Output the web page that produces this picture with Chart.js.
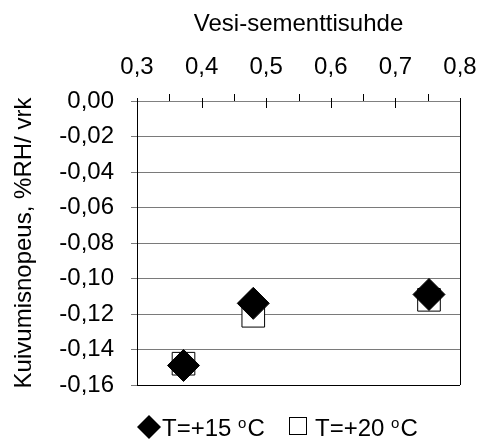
<!DOCTYPE html>
<html>
<head>
<meta charset="utf-8">
<script src="https://cdn.jsdelivr.net/npm/chart.js@4/dist/chart.umd.min.js"></script>
<style>
  html, body { margin: 0; padding: 0; background: #fff; }
  canvas { display: block; }
</style>
</head>
<body>
<canvas id="chart" width="477" height="441"></canvas>
<script>
// water-cement ratio (x) and drying rate (y) for both temperatures
const wcRatio = [0.372, 0.48, 0.752];
const rate15 = [-0.149, -0.114, -0.109];
const rate20 = [-0.148, -0.121, -0.112];
const seriesNames = ['T=+15', 'T=+20'];

const xTicks = [0.3, 0.4, 0.5, 0.6, 0.7, 0.8];
const yTicks = [0, -0.02, -0.04, -0.06, -0.08, -0.10, -0.12, -0.14, -0.16];

const FONT = 'Liberation Sans, Arial, sans-serif';

const toPoints = (xs, ys) => xs.map((x, i) => ({ x: x, y: ys[i] }));
const comma = (v, d) => {
    const s = Math.abs(v) < 1e-9 ? (0).toFixed(d) : v.toFixed(d);
    return s.replace('.', ',');
};

// tick marks on top axis, right/bottom frame, and the legend
const extras = {
    id: 'extras',
    afterDraw(chart) {
        const ctx = chart.ctx;
        const area = chart.chartArea;
        const xs = chart.scales.x;
        ctx.save();

        // frame right + bottom
        ctx.strokeStyle = '#000';
        ctx.lineWidth = 1;
        ctx.beginPath();
        ctx.moveTo(Math.round(area.right) + 0.5, area.top);
        ctx.lineTo(Math.round(area.right) + 0.5, area.bottom);
        ctx.stroke();

        // top axis ticks: major cross, minor outside
        ctx.strokeStyle = '#000';
        for (let v = 0.3; v <= 0.8001; v += 0.05) {
            const px = Math.round(xs.getPixelForValue(v)) + 0.5;
            const major = Math.abs(v * 10 - Math.round(v * 10)) < 1e-6;
            ctx.beginPath();
            if (major) {
                ctx.moveTo(px, area.top - 3);
                ctx.lineTo(px, area.top + 7);
            } else {
                ctx.moveTo(px, area.top - 7);
                ctx.lineTo(px, area.top);
            }
            ctx.stroke();
        }

        // legend
        const ly = 436;
        ctx.fillStyle = '#000';
        // diamond
        ctx.beginPath();
        ctx.moveTo(149 - 12, 427);
        ctx.lineTo(149, 427 - 12);
        ctx.lineTo(149 + 12, 427);
        ctx.lineTo(149, 427 + 12);
        ctx.closePath();
        ctx.fill();
        // square
        ctx.fillStyle = '#fff';
        ctx.fillRect(289.5, 417.5, 17, 17);
        ctx.strokeRect(289.5, 417.5, 17, 17);

        ctx.fillStyle = '#000';
        ctx.textBaseline = 'alphabetic';
        ctx.textAlign = 'left';
        [[162, seriesNames[0]], [315, seriesNames[1]]].forEach(([x, name]) => {
            ctx.font = '24px ' + FONT;
            const t = name + ' ';
            ctx.fillText(t, x, ly);
            let w = ctx.measureText(t).width;
            ctx.font = '15px ' + FONT;
            ctx.fillText('o', x + w, ly - 8);
            w += ctx.measureText('o').width + 1;
            ctx.font = '24px ' + FONT;
            ctx.fillText('C', x + w, ly);
        });
        ctx.restore();
    }
};

new Chart(document.getElementById('chart'), {
    type: 'scatter',
    data: {
        datasets: [
            {
                label: seriesNames[0] + ' oC',
                data: toPoints(wcRatio, rate15),
                pointStyle: 'rectRot',
                pointRadius: 16,
                backgroundColor: '#000',
                borderColor: '#000',
                borderWidth: 1,
            },
            {
                label: seriesNames[1] + ' oC',
                data: toPoints(wcRatio, rate20),
                pointStyle: 'rect',
                pointRadius: 16,
                backgroundColor: '#fff',
                borderColor: '#000',
                borderWidth: 1,
            },
        ],
    },
    options: {
        responsive: false,
        animation: false,
        events: [],
        layout: { padding: { left: 0, right: 13, top: 0, bottom: 56 } },
        plugins: {
            legend: { display: false },
            tooltip: { enabled: false },
        },
        scales: {
            x: {
                type: 'linear',
                position: 'top',
                min: 0.3,
                max: 0.8,
                afterBuildTicks: (scale) => { scale.ticks = xTicks.map(v => ({ value: v })); },
                afterFit: (scale) => { scale.height = 101; scale.paddingLeft = 0; scale.paddingRight = 0; },
                ticks: {
                    color: '#000',
                    padding: 19,
                    maxRotation: 0,
                    font: { family: FONT, size: 24 },
                    callback: (v) => comma(v, 1),
                },
                grid: { display: false, drawTicks: false },
                border: { display: true, color: '#808080', width: 1 },
                title: {
                    display: true,
                    text: 'Vesi-sementtisuhde',
                    color: '#000',
                    font: { family: FONT, size: 24 },
                    padding: { top: 10, bottom: 0 },
                },
            },
            y: {
                type: 'linear',
                min: -0.16,
                max: 0,
                afterBuildTicks: (scale) => { scale.ticks = yTicks.map(v => ({ value: v })); },
                afterFit: (scale) => { scale.width = 137; },
                ticks: {
                    color: '#000',
                    padding: 17,
                    font: { family: FONT, size: 24 },
                    callback: (v) => comma(v, 2),
                },
                grid: {
                    color: (c) => (c.tick && c.tick.value <= -0.159 ? '#000' : '#7a7a7a'),
                    tickColor: '#7a7a7a',
                    tickLength: 6,
                },
                border: { display: true, color: '#000', width: 1 },
                title: {
                    display: true,
                    text: 'Kuivumisnopeus, %RH/ vrk',
                    color: '#000',
                    font: { family: FONT, size: 24 },
                    padding: { top: 10, bottom: 0 },
                },
            },
        },
    },
    plugins: [extras],
});
</script>
</body>
</html>
